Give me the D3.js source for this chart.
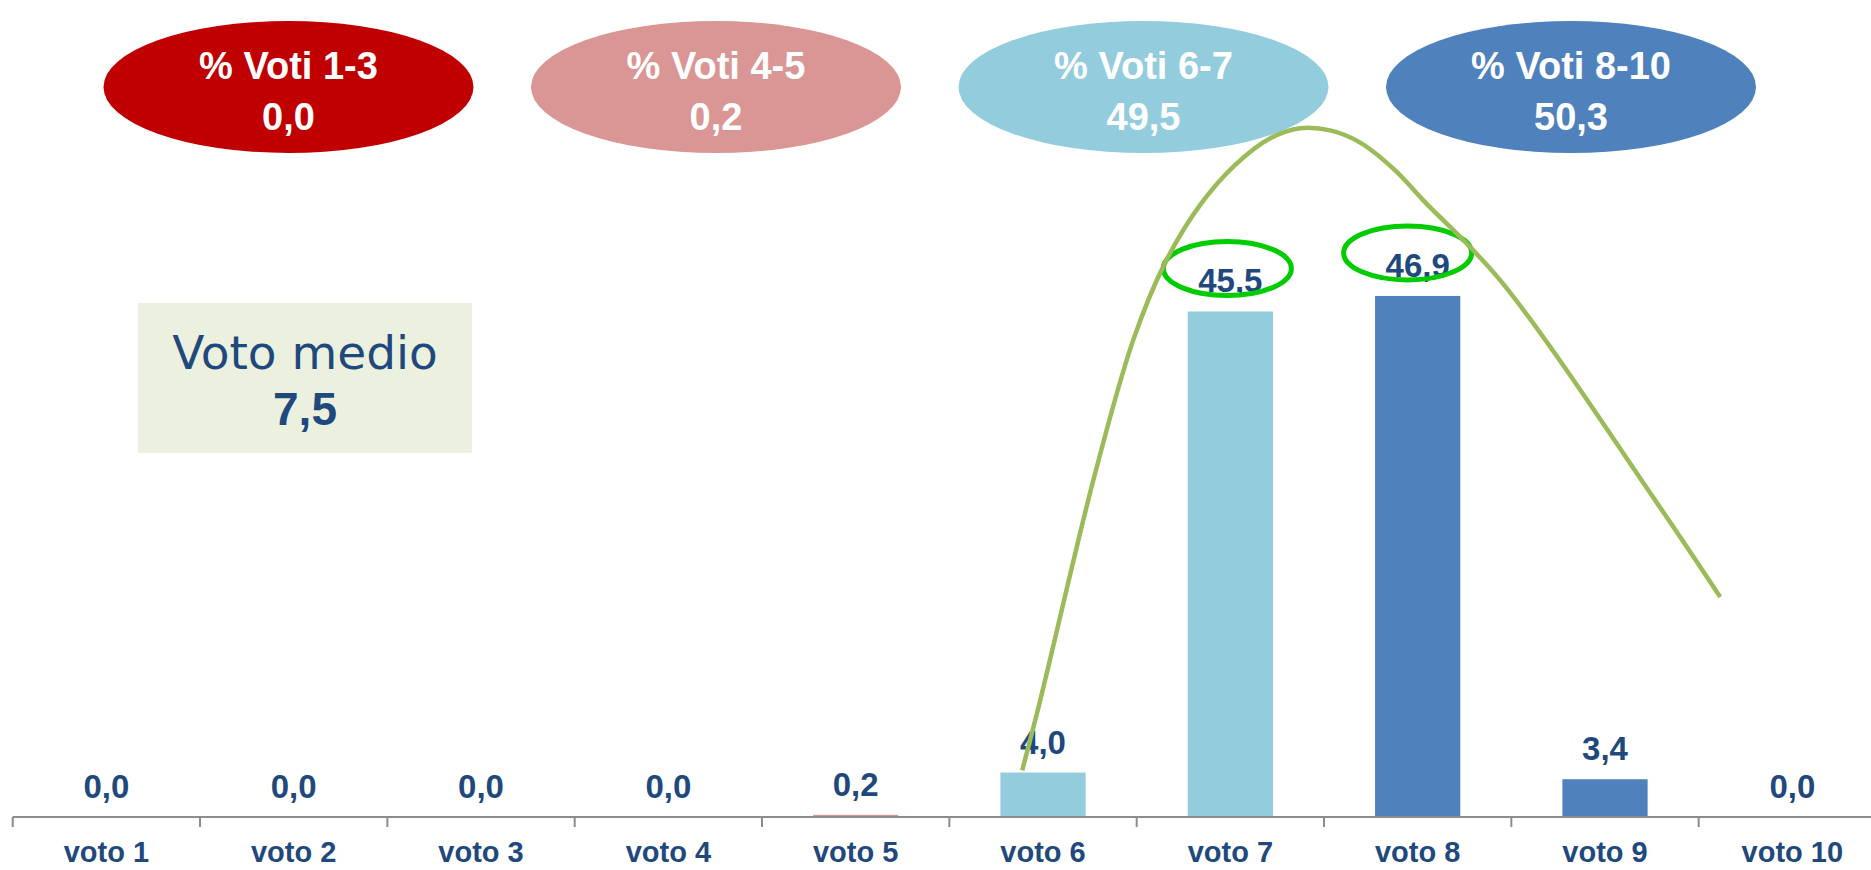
<!DOCTYPE html>
<html>
<head>
<meta charset="utf-8">
<script src="https://cdn.jsdelivr.net/npm/d3@7"></script>
<style>
  html, body { margin: 0; padding: 0; background: #ffffff; overflow: hidden; }
  svg { display: block; }
</style>
</head>
<body>
<svg id="chart" width="1871" height="870"></svg>
<script>
// Vote distribution (percent of respondents per vote)
const categories = ["voto 1", "voto 2", "voto 3", "voto 4", "voto 5", "voto 6", "voto 7", "voto 8", "voto 9", "voto 10"];
const values = [0.0, 0.0, 0.0, 0.0, 0.2, 4.0, 45.5, 46.9, 3.4, 0.0];
const groupIndex = [0, 0, 0, 1, 1, 2, 2, 3, 3, 3];

// Grouped totals shown in the header bubbles
const groupLabels = ["% Voti 1-3", "% Voti 4-5", "% Voti 6-7", "% Voti 8-10"];
const groupValues = [0.0, 0.2, 49.5, 50.3];
const groupColors = ["#C00000", "#D99694", "#93CDDD", "#4F81BD"];

// Average vote
const meanLabel = "Voto medio";
const meanVote = 7.5;

// Bars whose labels are circled
const highlighted = ["voto 7", "voto 8"];

// Hand-drawn trend curve: [vote position, percent]
const trendPoints = [
  [5.889, 4.2], [5.985, 10.5], [6.273, 30.6], [6.481, 42.9], [6.652, 49.9],
  [6.839, 55.1], [7.026, 58.7], [7.213, 61.1], [7.373, 62.0], [7.533, 61.8],
  [7.693, 60.7], [7.880, 58.2], [8.030, 55.5], [8.441, 48.3], [9.268, 28.5],
  [9.615, 19.8]
];

const labelColor = "#1F497D";
const locale = d3.formatLocale({ decimal: ",", thousands: ".", grouping: [3], currency: ["", "€"] });
const fmt = locale.format(".1f");

const svg = d3.select("#chart");

const axisY = 817;
const x = d3.scaleBand().domain(categories).range([12.7, 1886]).paddingInner(0).paddingOuter(0);
const xPos = d3.scaleLinear().domain([0.5, 10.5]).range([12.7, 1886]);
const y = d3.scaleLinear().domain([0, 60]).range([axisY, axisY - 666.6]);
const barW = x.bandwidth() * 0.455;

// Header bubbles
const gx = d3.scalePoint().domain(groupLabels).range([288.5, 1571]);
const bubbles = svg.append("g").attr("class", "bubbles")
  .selectAll("g").data(groupLabels).join("g")
  .attr("transform", d => `translate(${gx(d)},87)`);
bubbles.append("ellipse")
  .attr("rx", 185).attr("ry", 66)
  .attr("fill", (d, i) => groupColors[i]);
bubbles.append("text")
  .attr("y", -8)
  .attr("text-anchor", "middle")
  .attr("font-family", "'Liberation Sans', Arial, sans-serif")
  .attr("font-weight", "bold").attr("font-size", 38)
  .attr("fill", "#ffffff")
  .text(d => d);
bubbles.append("text")
  .attr("y", 43)
  .attr("text-anchor", "middle")
  .attr("font-family", "'Liberation Sans', Arial, sans-serif")
  .attr("font-weight", "bold").attr("font-size", 38)
  .attr("fill", "#ffffff")
  .text((d, i) => fmt(groupValues[i]));

// Average vote box
const box = svg.append("g").attr("class", "mean");
box.append("rect")
  .attr("x", 138).attr("y", 303).attr("width", 334).attr("height", 150)
  .attr("fill", "#EBF1DE");
box.append("text")
  .attr("x", 305).attr("y", 369)
  .attr("text-anchor", "middle")
  .attr("font-family", "'DejaVu Sans', sans-serif")
  .attr("font-size", 47)
  .attr("fill", labelColor)
  .text(meanLabel);
box.append("text")
  .attr("x", 305).attr("y", 425)
  .attr("text-anchor", "middle")
  .attr("font-family", "'Liberation Sans', Arial, sans-serif")
  .attr("font-weight", "bold").attr("font-size", 46)
  .attr("fill", labelColor)
  .text(fmt(meanVote));

// Bars
svg.append("g").attr("class", "bars")
  .selectAll("rect").data(categories).join("rect")
  .attr("x", d => x(d) + (x.bandwidth() - barW) / 2)
  .attr("y", (d, i) => y(values[i]))
  .attr("width", barW)
  .attr("height", (d, i) => axisY - y(values[i]))
  .attr("fill", (d, i) => groupColors[groupIndex[i]]);

// Axis
const axis = d3.axisBottom(x).tickSize(10).tickFormat("");
const axisG = svg.append("g").attr("transform", `translate(0,${axisY})`).call(axis);
axisG.select(".domain").attr("stroke", "#8C8C8C").attr("stroke-width", 2)
  .attr("d", `M${x.range()[0]},0H${x.range()[1]}`);
axisG.selectAll(".tick").remove();
axisG.selectAll(".boundary").data(d3.range(categories.length + 1)).join("line")
  .attr("class", "boundary")
  .attr("x1", i => xPos(i + 0.5)).attr("x2", i => xPos(i + 0.5))
  .attr("y1", 0).attr("y2", 10)
  .attr("stroke", "#8C8C8C").attr("stroke-width", 2);

// Category labels
svg.append("g").attr("class", "cat-labels")
  .selectAll("text").data(categories).join("text")
  .attr("x", d => x(d) + x.bandwidth() / 2)
  .attr("y", 862)
  .attr("text-anchor", "middle")
  .attr("font-family", "'Liberation Sans', Arial, sans-serif")
  .attr("font-weight", "bold").attr("font-size", 29)
  .attr("fill", labelColor)
  .text(d => d);

// Value labels
svg.append("g").attr("class", "val-labels")
  .selectAll("text").data(categories).join("text")
  .attr("x", d => x(d) + x.bandwidth() / 2)
  .attr("y", (d, i) => y(values[i]) - 19)
  .attr("text-anchor", "middle")
  .attr("font-family", "'Liberation Sans', Arial, sans-serif")
  .attr("font-weight", "bold").attr("font-size", 33)
  .attr("fill", labelColor)
  .text((d, i) => fmt(values[i]));

// Circles around highlighted labels
const hlOffset = { "voto 7": -3, "voto 8": -10 };
svg.append("g").attr("class", "highlights")
  .selectAll("ellipse").data(highlighted).join("ellipse")
  .attr("cx", d => x(d) + x.bandwidth() / 2 + hlOffset[d])
  .attr("cy", d => y(values[categories.indexOf(d)]) - 43)
  .attr("rx", 64).attr("ry", 27)
  .attr("fill", "none")
  .attr("stroke", "#00CC00").attr("stroke-width", 5);

// Trend curve
const line = d3.line()
  .x(d => xPos(d[0]))
  .y(d => y(d[1]))
  .curve(d3.curveCatmullRom.alpha(0.5));
svg.append("path")
  .datum(trendPoints)
  .attr("d", line)
  .attr("fill", "none")
  .attr("stroke", "#9BBB59")
  .attr("stroke-width", 4.5);
</script>
</body>
</html>
